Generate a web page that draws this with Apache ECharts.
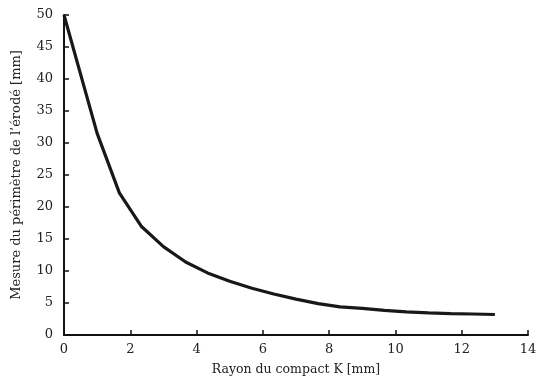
<!DOCTYPE html>
<html><head><meta charset="utf-8">
<script src="https://cdn.jsdelivr.net/npm/echarts@6/dist/echarts.min.js"></script>
<style>html,body{margin:0;padding:0;background:#fff}#c{width:540px;height:383px}</style>
</head><body><div id="c"></div>
<script>
const xValues = [0, 1, 1.67, 2.33, 3, 3.67, 4.33, 5, 5.67, 6.33, 7, 7.67, 8.33, 9, 9.67, 10.33, 11, 11.67, 12.33, 13];
const yValues = [50, 31.5, 22.2, 17.0, 13.8, 11.4, 9.7, 8.4, 7.3, 6.4, 5.6, 4.9, 4.4, 4.15, 3.85, 3.6, 3.45, 3.35, 3.28, 3.2];
const xName = 'Rayon du compact K [mm]';
const yName = 'Mesure du périmètre de l\u2019érodé [mm]';
const font = '"DejaVu Serif", serif';
const chart = echarts.init(document.getElementById('c'), null, {renderer: 'canvas'});
chart.setOption({
  animation: false,
  backgroundColor: '#fff',
  grid: {left: 64, right: 12, top: 15, bottom: 48},
  xAxis: {
    type: 'value', min: 0, max: 14, interval: 2,
    name: xName, nameLocation: 'middle', nameGap: 28,
    nameTextStyle: {fontFamily: font, fontSize: 12.5, color: '#222'},
    axisLine: {lineStyle: {color: '#111', width: 2}},
    axisTick: {inside: true, length: 5, lineStyle: {color: '#111', width: 1.5}},
    axisLabel: {fontFamily: font, fontSize: 13, color: '#222', margin: 8},
    splitLine: {show: false}
  },
  yAxis: {
    type: 'value', min: 0, max: 50, interval: 5,
    name: yName, nameLocation: 'middle', nameGap: 41, nameRotate: 90,
    nameTextStyle: {fontFamily: font, fontSize: 13, color: '#222'},
    axisLine: {show: true, lineStyle: {color: '#111', width: 2}},
    axisTick: {show: true, inside: true, length: 5, lineStyle: {color: '#111', width: 1.5}},
    axisLabel: {fontFamily: font, fontSize: 13, color: '#222', margin: 11},
    splitLine: {show: false}
  },
  series: [{
    type: 'line',
    data: xValues.map((x, i) => [x, yValues[i]]),
    showSymbol: false,
    lineStyle: {color: '#1a1718', width: 3.2},
    smooth: false
  }]
});
</script></body></html>
